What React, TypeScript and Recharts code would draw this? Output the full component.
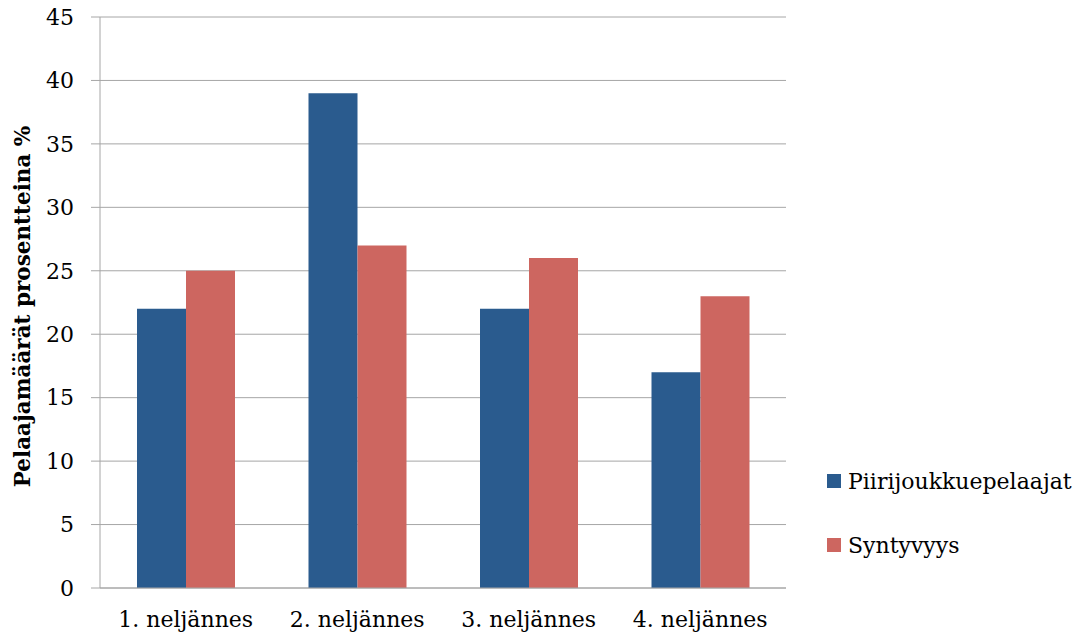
import React from "react";
import { BarChart, Bar, XAxis, YAxis, CartesianGrid } from "recharts";

const categories = ["1. neljännes", "2. neljännes", "3. neljännes", "4. neljännes"];
const piirijoukkue = [22, 39, 22, 17];
const syntyvyys = [25, 27, 26, 23];
const yTicks = [0, 5, 10, 15, 20, 25, 30, 35, 40, 45];

const data = categories.map((name, i) => ({
  name,
  Piirijoukkuepelaajat: piirijoukkue[i],
  Syntyvyys: syntyvyys[i],
}));

const FONT = "'DejaVu Serif', serif";
const BLUE = "#2A5B8E";
const RED = "#CD6660";
const GRID = "#A6A6A6";

const legendItems = [
  { name: "Piirijoukkuepelaajat", color: BLUE },
  { name: "Syntyvyys", color: RED },
];

export default function App() {
  return (
    <div style={{ position: "fixed", left: 0, top: 0, width: 1089, height: 640, background: "#fff" }}>
      <BarChart
        width={1089}
        height={640}
        data={data}
        margin={{ top: 17, right: 303, bottom: 0, left: 0 }}
        barCategoryGap={37}
        barGap={0}
      >
        <CartesianGrid vertical={false} stroke={GRID} />
        <XAxis
          dataKey="name"
          height={52}
          tickLine={false}
          tickSize={0}
          tickMargin={23}
          stroke={GRID}
          tick={{ fill: "#000", fontSize: 22, fontFamily: FONT }}
        />
        <YAxis
          width={100}
          domain={[0, 45]}
          ticks={yTicks}
          interval={0}
          tickSize={9}
          tickMargin={17}
          stroke={GRID}
          tick={{ fill: "#000", fontSize: 22, fontFamily: FONT }}
          label={{
            value: "Pelaajamäärät prosentteina %",
            angle: -90,
            position: "insideLeft",
            offset: 22,
            dx: 0,
            dy: 4,
            style: { textAnchor: "middle", fontFamily: FONT, fontWeight: "bold", fontSize: 21.5, fill: "#000" },
          }}
        />
        <Bar dataKey="Piirijoukkuepelaajat" fill={BLUE} isAnimationActive={false} />
        <Bar dataKey="Syntyvyys" fill={RED} isAnimationActive={false} />
      </BarChart>
      <div style={{ position: "absolute", left: 827, top: 449, fontFamily: FONT, fontSize: 22, color: "#000" }}>
        {legendItems.map((it) => (
          <div key={it.name} style={{ display: "flex", alignItems: "center", height: 64 }}>
            <span style={{ width: 14, height: 14, background: it.color, marginRight: 7, display: "inline-block" }} />
            <span>{it.name}</span>
          </div>
        ))}
      </div>
    </div>
  );
}
